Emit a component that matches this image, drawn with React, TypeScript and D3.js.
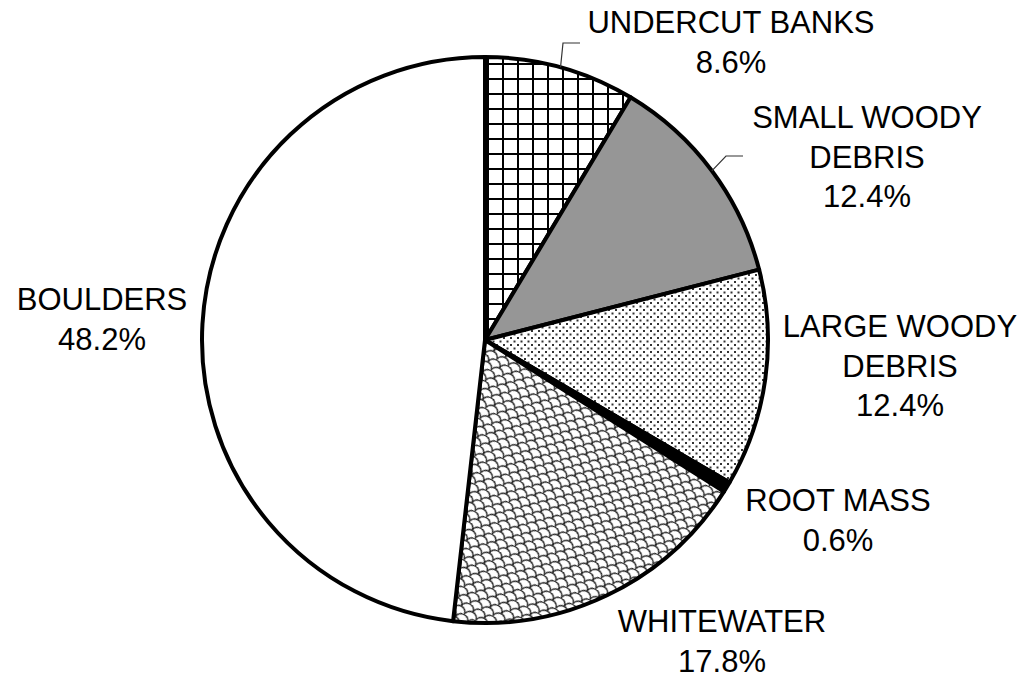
import React from "react";
import * as d3 from "d3";

const categories = ["UNDERCUT BANKS", "SMALL WOODY DEBRIS", "LARGE WOODY DEBRIS", "ROOT MASS", "WHITEWATER", "BOULDERS"];
const values = [8.6, 12.4, 12.4, 0.6, 17.8, 48.2];
const labelLines = [
  ["UNDERCUT BANKS"],
  ["SMALL WOODY", "DEBRIS"],
  ["LARGE WOODY", "DEBRIS"],
  ["ROOT MASS"],
  ["WHITEWATER"],
  ["BOULDERS"],
];

// layout (positions relative to pie center) – not data
const labelPos = [
  { dx: 246, dy: -307 },
  { dx: 382, dy: -212 },
  { dx: 415, dy: -3 },
  { dx: 353, dy: 171 },
  { dx: 237, dy: 292 },
  { dx: -383, dy: -30 },
];
const leaders: Record<number, { elbow: [number, number]; end: [number, number] }> = {
  0: { elbow: [78, -297], end: [95, -297] },
  1: { elbow: [241, -184], end: [258, -184] },
};
const fills = ["url(#grid)", "#969696", "url(#dots)", "#000", "url(#scales)", "#fff"];

const W = 1027, H = 680;
const cx = 485, cy = 340, R = 283;
const lineH = 39.5;

export default function App() {
  const pie = d3.pie<number>().sort(null).value((d) => d);
  const arcs = pie(values);
  const arcGen = d3.arc<d3.PieArcDatum<number>>().innerRadius(0).outerRadius(R);
  return (
    <svg width={W} height={H} style={{ position: "absolute", left: 0, top: 0, background: "#fff" }}>
      <defs>
        <pattern id="grid" width={15} height={15} patternUnits="userSpaceOnUse" x={cx - 3} y={cy - 2}>
          <rect width={15} height={15} fill="#fff" />
          <path d="M0,1 H15 M1,0 V15" stroke="#000" strokeWidth={2} />
        </pattern>
        <pattern id="dots" width={7} height={7} patternUnits="userSpaceOnUse">
          <rect width={7} height={7} fill="#fff" />
          <rect x={0.5} y={0.5} width={2} height={2} fill="#333" />
          <rect x={4} y={4} width={2} height={2} fill="#333" />
        </pattern>
        <pattern id="scales" width={13} height={12} patternUnits="userSpaceOnUse" patternTransform="rotate(28)">
          <rect width={13} height={12} fill="#fff" />
          <path
            d="M0,6 A6.5,6 0 0 1 13,6 M-6.5,12 A6.5,6 0 0 1 6.5,12 M6.5,12 A6.5,6 0 0 1 19.5,12 M-6.5,0 A6.5,6 0 0 1 6.5,0 M6.5,0 A6.5,6 0 0 1 19.5,0"
            fill="none"
            stroke="#222"
            strokeWidth={1.3}
          />
        </pattern>
      </defs>
      <g transform={`translate(${cx},${cy})`}>
        {arcs.map((a, i) => (
          <path key={categories[i]} d={arcGen(a) || ""} fill={fills[i]} stroke="#000" strokeWidth={4} strokeLinejoin="round" />
        ))}
        {arcs.map((a, i) => {
          const l = leaders[i];
          if (!l) return null;
          const mid = (a.startAngle + a.endAngle) / 2;
          const sx = R * Math.sin(mid), sy = -R * Math.cos(mid);
          return (
            <polyline
              key={"l" + i}
              points={`${sx},${sy} ${l.elbow[0]},${l.elbow[1]} ${l.end[0]},${l.end[1]}`}
              fill="none"
              stroke="#333"
              strokeWidth={1.2}
            />
          );
        })}
        {arcs.map((a, i) => {
          const lines = [...labelLines[i], `${values[i].toFixed(1)}%`];
          return (
            <text
              key={"t" + i}
              textAnchor="middle"
              fontFamily="'Liberation Sans', Arial, sans-serif"
              fontSize={31}
              fill="#000"
            >
              {lines.map((ln, j) => (
                <tspan key={j} x={labelPos[i].dx} y={labelPos[i].dy + j * lineH}>
                  {ln}
                </tspan>
              ))}
            </text>
          );
        })}
      </g>
    </svg>
  );
}
